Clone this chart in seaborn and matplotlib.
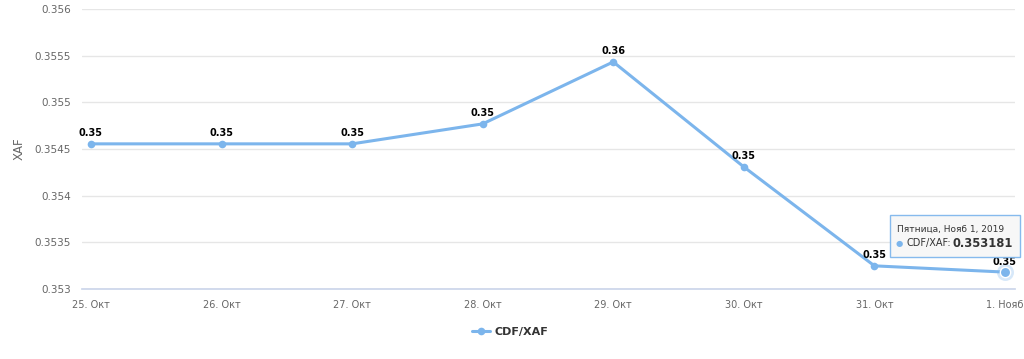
import pandas as pd
import numpy as np
import matplotlib.pyplot as plt
import seaborn as sns

# Данные курса CDF/XAF
dates = ['25. Окт', '26. Окт', '27. Окт', '28. Окт', '29. Окт', '30. Окт', '31. Окт', '1. Нояб']
rates = [0.354555, 0.354555, 0.354555, 0.354769, 0.355433, 0.354308, 0.353248, 0.353181]
point_labels = ['0.35', '0.35', '0.35', '0.35', '0.36', '0.35', '0.35', '0.35']
y_ticks = [0.353, 0.3535, 0.354, 0.3545, 0.355, 0.3555, 0.356]

sns.set_theme(style="white")
plt.rcParams['font.family'] = ['DejaVu Sans']

df = pd.DataFrame({'idx': range(len(dates)), 'rate': rates})
color = '#7cb5ec'

fig = plt.figure(figsize=(10.24, 3.59), dpi=100)
ax = fig.add_axes([0.080, 0.195, 0.911, 0.780])

sns.lineplot(data=df, x='idx', y='rate', ax=ax, color=color, linewidth=2.2,
             marker='o', markersize=5.5, markeredgewidth=0, label='CDF/XAF', zorder=3)

# подсвеченная последняя точка
ax.scatter([df['idx'].iloc[-1]], [df['rate'].iloc[-1]], s=150, color=color, alpha=0.3,
           linewidths=0, zorder=4)
ax.scatter([df['idx'].iloc[-1]], [df['rate'].iloc[-1]], s=55, color=color,
           edgecolor='white', linewidths=1, zorder=5)

for i, (v, lab) in enumerate(zip(rates, point_labels)):
    ax.annotate(lab, (i, v), xytext=(0, 4), textcoords='offset points', ha='center',
                va='bottom', fontsize=7, fontweight='bold', color='black', zorder=6)

ax.set_xlim(-0.069, 7.075)
ax.set_ylim(0.353, 0.356)
ax.set_xticks(df['idx'])
ax.set_xticklabels(dates, fontsize=7, color='#666666')
ax.set_yticks(y_ticks)
ax.set_yticklabels([f'{t:g}' for t in y_ticks], fontsize=7.5, color='#666666')
ax.tick_params(axis='x', length=5, color='#ccd6eb', direction='out', pad=3)
ax.tick_params(axis='y', length=0, pad=8)
ax.grid(axis='y', color='#e6e6e6', linewidth=1)
ax.set_xlabel('')
ax.set_ylabel('XAF', fontsize=8.5, color='#666666', labelpad=6)
for s in ['top', 'right', 'left']:
    ax.spines[s].set_visible(False)
ax.spines['bottom'].set_color('#ccd6eb')

leg = ax.legend(loc='center', bbox_to_anchor=(0.459, -0.154), frameon=False,
                fontsize=8, handlelength=1.6, handletextpad=0.4)
for t in leg.get_texts():
    t.set_fontweight('bold')
    t.set_color('#333333')

# всплывающая подсказка
box = plt.Rectangle((0.869, 0.283), 0.127, 0.118, transform=fig.transFigure,
                    facecolor='#f7f7f7', edgecolor=color, linewidth=1, alpha=0.92, zorder=10)
fig.add_artist(box)
fig.text(0.876, 0.361, 'Пятница, Нояб 1, 2019', fontsize=6.5, color='#333333',
         va='center', ha='left', zorder=11)
fig.text(0.875, 0.323, '●', fontsize=6, color=color, va='center', ha='left', zorder=11)
fig.text(0.885, 0.323, 'CDF/XAF:', fontsize=7, color='#333333', va='center', ha='left',
         zorder=11)
fig.text(0.930, 0.323, '0.353181', fontsize=8.3, color='#333333', fontweight='bold',
         va='center', ha='left', zorder=11)

plt.savefig('out.png', dpi=100)
